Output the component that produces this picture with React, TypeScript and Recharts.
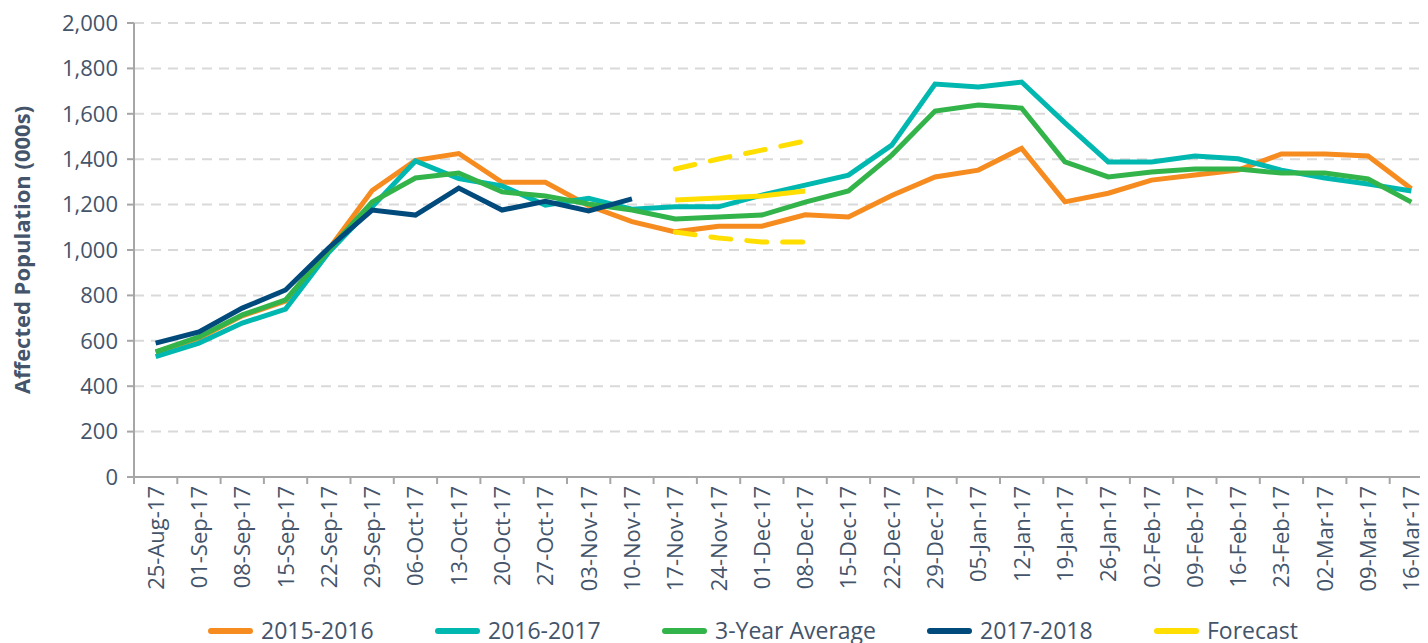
import { LineChart, Line, XAxis, YAxis, CartesianGrid, Label } from 'recharts';

const weeks = [
  '25-Aug-17', '01-Sep-17', '08-Sep-17', '15-Sep-17', '22-Sep-17', '29-Sep-17',
  '06-Oct-17', '13-Oct-17', '20-Oct-17', '27-Oct-17', '03-Nov-17', '10-Nov-17',
  '17-Nov-17', '24-Nov-17', '01-Dec-17', '08-Dec-17', '15-Dec-17', '22-Dec-17',
  '29-Dec-17', '05-Jan-17', '12-Jan-17', '19-Jan-17', '26-Jan-17', '02-Feb-17',
  '09-Feb-17', '16-Feb-17', '23-Feb-17', '02-Mar-17', '09-Mar-17', '16-Mar-17',
];

const s2015 = [550, 612, 710, 775, 1005, 1262, 1395, 1425, 1298, 1298, 1195, 1125, 1080, 1105, 1105, 1155, 1145, 1240, 1322, 1352, 1448, 1212, 1250, 1308, 1330, 1352, 1423, 1423, 1414, 1270];
const s2016 = [530, 590, 678, 740, 990, 1190, 1392, 1315, 1282, 1198, 1228, 1180, 1190, 1190, 1242, 1286, 1330, 1462, 1731, 1718, 1740, 1560, 1388, 1388, 1414, 1402, 1352, 1317, 1291, 1260];
const avg3 = [551, 617, 714, 780, 1000, 1211, 1317, 1339, 1256, 1238, 1203, 1176, 1137, 1145, 1154, 1211, 1260, 1418, 1612, 1639, 1625, 1388, 1322, 1344, 1357, 1357, 1339, 1339, 1313, 1211];
const s2017 = [590, 639, 744, 824, 1010, 1176, 1154, 1273, 1176, 1215, 1172, 1225];
const forecast = [1220, 1229, 1238, 1260];
const forecastHigh = [1357, 1401, 1440, 1480];
const forecastLow = [1079, 1053, 1035, 1035];
const forecastStart = 12;

const yTicks = [0, 200, 400, 600, 800, 1000, 1200, 1400, 1600, 1800, 2000];

const data = weeks.map((week, i) => {
  const f = i - forecastStart;
  const inF = f >= 0 && f < forecast.length;
  return {
    week,
    s2015: s2015[i],
    s2016: s2016[i],
    avg3: avg3[i],
    s2017: i < s2017.length ? s2017[i] : null,
    forecast: inF ? forecast[f] : null,
    forecastHigh: inF ? forecastHigh[f] : null,
    forecastLow: inF ? forecastLow[f] : null,
  };
});

const FONT = '"Open Sans", sans-serif';
const TEXT = '#44546A';
const AXIS = '#A6A6A6';

const CHART_W = 1436;
const Y_AXIS_W = 134;
const MARGIN_R = 3;
// half of one category band, so points sit in the middle of each week
const HALF_BAND = (CHART_W - Y_AXIS_W - MARGIN_R) / weeks.length / 2;

const colors = {
  s2015: '#F68B1F',
  s2016: '#00B8B0',
  avg3: '#33B44A',
  s2017: '#004A7C',
  forecast: '#FFDE00',
};

const legendItems = [
  { name: '2015-2016', color: colors.s2015, x: 208 },
  { name: '2016-2017', color: colors.s2016, x: 435 },
  { name: '3-Year Average', color: colors.avg3, x: 662 },
  { name: '2017-2018', color: colors.s2017, x: 927 },
  { name: 'Forecast', color: colors.forecast, x: 1154 },
];

const XTick = ({ x, y, payload, index }: any) => {
  const axisY = y - 9;
  return (
    <g>
      <line x1={x - HALF_BAND} x2={x - HALF_BAND} y1={axisY} y2={axisY + 7} stroke={AXIS} strokeWidth={2} />
      {index === weeks.length - 1 && (
        <line x1={x + HALF_BAND} x2={x + HALF_BAND} y1={axisY} y2={axisY + 7} stroke={AXIS} strokeWidth={2} />
      )}
      <text
        x={x + 8}
        y={y}
        transform={`rotate(-90 ${x + 8} ${y})`}
        textAnchor="end"
        fill={TEXT}
        fontSize={22}
        fontFamily={FONT}
      >
        {payload.value}
      </text>
    </g>
  );
};

const YTitle = ({ viewBox }: any) => (
  <text
    x={30}
    y={viewBox.y + viewBox.height / 2}
    transform={`rotate(-90 30 ${viewBox.y + viewBox.height / 2})`}
    textAnchor="middle"
    fill={TEXT}
    fontSize={22}
    fontWeight="bold"
    fontFamily={FONT}
  >
    Affected Population (000s)
  </text>
);

export default function App() {
  return (
    <div style={{ position: 'relative', margin: '-8px 0 0 -8px', width: 1428, height: 643, overflow: 'hidden', background: '#fff' }}>
      <LineChart width={CHART_W} height={643} data={data} margin={{ top: 23, right: MARGIN_R, left: 0, bottom: 0 }}>
        <CartesianGrid vertical={false} stroke="#D9D9D9" strokeWidth={2} strokeDasharray="10 7" />
        <XAxis
          dataKey="week"
          interval={0}
          height={166}
          padding={{ left: HALF_BAND, right: HALF_BAND }}
          tick={<XTick />}
          tickLine={false}
          tickSize={7}
          tickMargin={2}
          stroke={AXIS}
          strokeWidth={2}
        />
        <YAxis
          width={Y_AXIS_W}
          domain={[0, 2000]}
          ticks={yTicks}
          tickFormatter={(v) => v.toLocaleString('en-US')}
          tick={{ fill: TEXT, fontSize: 22, fontFamily: FONT }}
          tickSize={7}
          tickMargin={9}
          stroke={AXIS}
          strokeWidth={2}
        >
          <Label content={<YTitle />} />
        </YAxis>
        <Line dataKey="s2015" name="2015-2016" stroke={colors.s2015} strokeWidth={5} dot={false} isAnimationActive={false} />
        <Line dataKey="s2016" name="2016-2017" stroke={colors.s2016} strokeWidth={5} dot={false} isAnimationActive={false} />
        <Line dataKey="avg3" name="3-Year Average" stroke={colors.avg3} strokeWidth={5} dot={false} isAnimationActive={false} />
        <Line dataKey="s2017" name="2017-2018" stroke={colors.s2017} strokeWidth={5} dot={false} isAnimationActive={false} />
        <Line dataKey="forecast" name="Forecast" stroke={colors.forecast} strokeWidth={5} dot={false} isAnimationActive={false} />
        <Line dataKey="forecastHigh" name="Forecast (high)" stroke={colors.forecast} strokeWidth={5} strokeDasharray="20 16" strokeLinecap="round" dot={false} isAnimationActive={false} />
        <Line dataKey="forecastLow" name="Forecast (low)" stroke={colors.forecast} strokeWidth={5} strokeDasharray="20 16" strokeLinecap="round" dot={false} isAnimationActive={false} />
      </LineChart>
      {legendItems.map((item) => (
        <div key={item.name} style={{ position: 'absolute', left: item.x, top: 615, display: 'flex', alignItems: 'center', height: 31 }}>
          <div style={{ width: 45, height: 6, borderRadius: 3, background: item.color, marginRight: 8 }} />
          <span style={{ fontFamily: FONT, fontSize: 23, color: TEXT, lineHeight: '31px' }}>{item.name}</span>
        </div>
      ))}
    </div>
  );
}
